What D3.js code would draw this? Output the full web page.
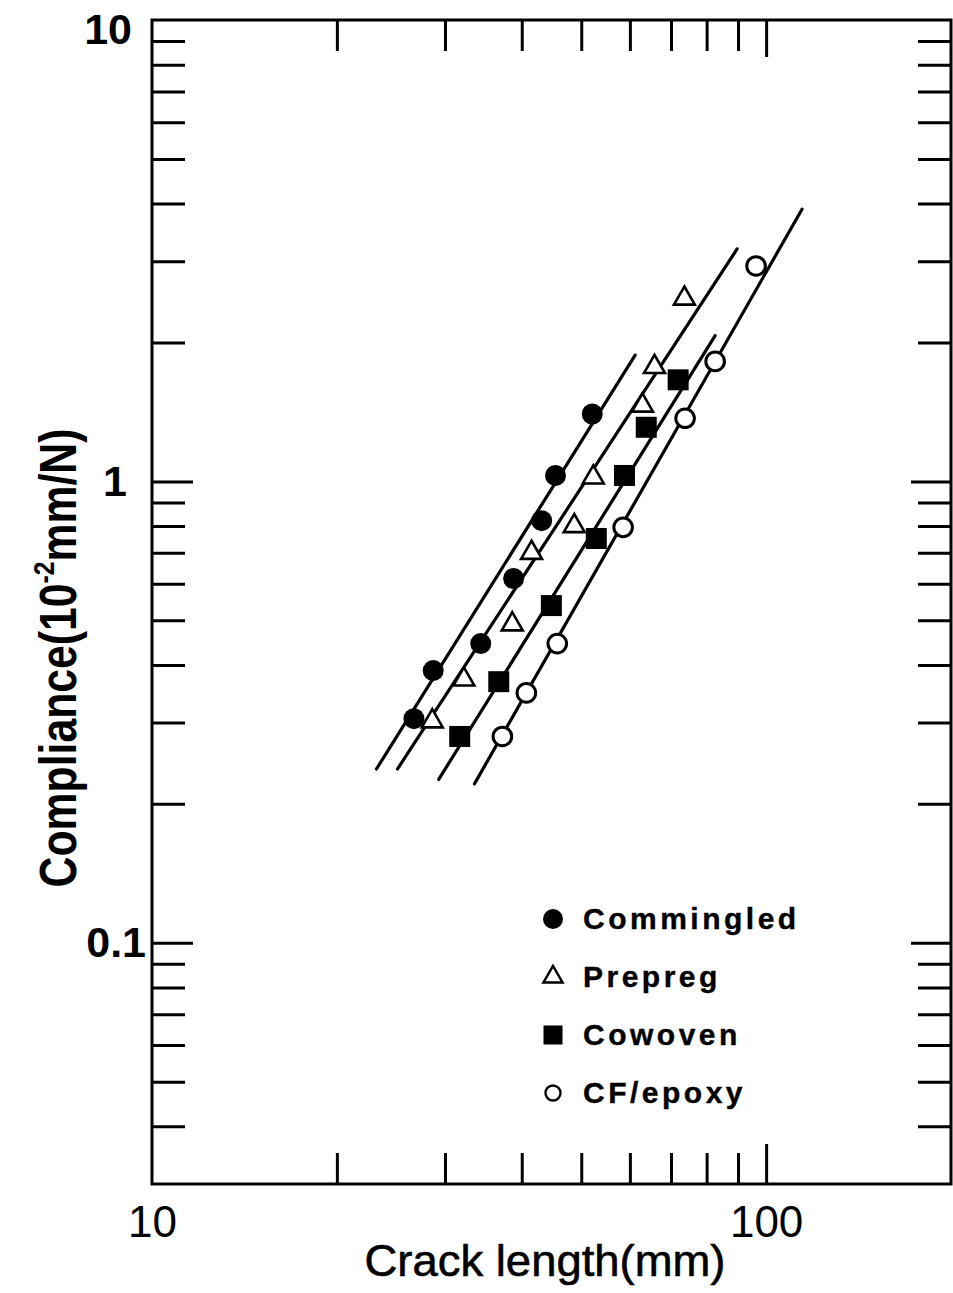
<!DOCTYPE html>
<html>
<head>
<meta charset="utf-8">
<script src="https://cdn.jsdelivr.net/npm/d3@7"></script>
<style>
  body { margin: 0; background: #fff; }
  svg { display: block; }
  text { font-family: "Liberation Sans", Arial, Helvetica, sans-serif; fill: #000; }
</style>
</head>
<body>
<div id="chart"></div>
<script>
"use strict";

// data
const seriesNames = ["Commingled", "Prepreg", "Cowoven", "CF/epoxy"];

const comminX = [26.7, 28.7, 34.3, 38.8, 43.1, 45.4, 52.1];
const comminY = [0.306, 0.389, 0.445, 0.616, 0.822, 1.03, 1.4];
const prepregX = [28.6, 32.2, 38.6, 41.5, 48.7, 52.3, 62.9, 65.8, 73.6];
const prepregY = [0.302, 0.372, 0.49, 0.7, 0.8, 1.02, 1.46, 1.77, 2.49];
const cowovenX = [31.7, 36.7, 44.7, 52.9, 58.8, 63.8, 71.9];
const cowovenY = [0.28, 0.368, 0.538, 0.752, 1.03, 1.31, 1.66];
const epoxyX = [37.2, 40.7, 45.7, 58.5, 73.8, 82.6, 96.3];
const epoxyY = [0.28, 0.348, 0.445, 0.795, 1.37, 1.82, 2.93];

// fitted lines: [start, end] for each series
const fitX = [[23.2, 61.2], [25.1, 89.7], [29.3, 82.6], [33.5, 114.4]];
const fitY = [[0.238, 1.877], [0.238, 3.19], [0.226, 2.07], [0.221, 3.89]];

const xTicks = [20, 30, 40, 50, 60, 70, 80, 90, 100];
const xLabels = [10, 100];
const yTicks = [0.04, 0.05, 0.06, 0.07, 0.08, 0.09, 0.1,
  0.2, 0.3, 0.4, 0.5, 0.6, 0.7, 0.8, 0.9, 1,
  2, 3, 4, 5, 6, 7, 8, 9];
const yLabels = [0.1, 1, 10];
const majorTicks = [0.1, 1, 100];

const W = 953;
const H = 1293;
const pLeft = 152, pRight = 951, pTop = 20, pBottom = 1184;

const x = d3.scaleLog().domain([10, 200]).range([pLeft, pRight]);
const y = d3.scaleLog().domain([0.03, 10]).range([pBottom, pTop]);

const isMajor = (d) => majorTicks.includes(d);

const svg = d3
  .select("#chart")
  .append("svg")
  .attr("width", W)
  .attr("height", H);

// frame
svg
  .append("rect")
  .attr("x", pLeft)
  .attr("y", pTop)
  .attr("width", pRight - pLeft)
  .attr("height", pBottom - pTop)
  .attr("fill", "none")
  .attr("stroke", "#000")
  .attr("stroke-width", 3);

// inward ticks on all four sides
const tickAxis = function (axis, transform, attr, sign, minor, major) {
  const g = svg
    .append("g")
    .attr("transform", transform)
    .call(axis.tickSize(0).tickFormat(""));
  g.select(".domain").remove();
  g.selectAll(".tick line")
    .attr(attr, (d) => sign * (isMajor(d) ? major : minor))
    .attr("stroke", "#000")
    .attr("stroke-width", 3);
  g.selectAll(".tick text").remove();
};

tickAxis(d3.axisBottom(x).tickValues(xTicks), `translate(0,${pBottom})`, "y2", -1, 31, 40);
tickAxis(d3.axisTop(x).tickValues(xTicks), `translate(0,${pTop})`, "y2", 1, 31, 37);
tickAxis(d3.axisLeft(y).tickValues(yTicks), `translate(${pLeft},0)`, "x2", 1, 33, 41);
tickAxis(d3.axisRight(y).tickValues(yTicks), `translate(${pRight},0)`, "x2", -1, 33, 40);

// tick labels
const xLab = svg
  .append("g")
  .attr("transform", `translate(0,${pBottom})`)
  .call(d3.axisBottom(x).tickValues(xLabels).tickSize(0).tickPadding(22).tickFormat(d3.format("")));
xLab.select(".domain").remove();
xLab.attr("font-family", null).attr("font-size", 44);
xLab.selectAll("text").attr("fill", "#000");

const yLab = svg
  .append("g")
  .attr("transform", `translate(${pLeft},0)`)
  .call(d3.axisLeft(y).tickValues(yLabels).tickSize(0).tickPadding(20).tickFormat(d3.format("")));
yLab.select(".domain").remove();
yLab.attr("font-family", null).attr("font-size", 43).attr("font-weight", "bold");
yLab.selectAll("text")
  .attr("fill", "#000")
  .attr("dy", (d) => (d === 10 ? "0.55em" : "0.32em"))
  .attr("dx", (d) => (d === 0.1 ? 14 : d === 1 ? -5 : 0));

// axis titles, squeezed to the width seen in the figure
const fitText = function (sel, len) {
  const natural = sel.node().getComputedTextLength();
  return len / natural;
};

const xTitle = svg
  .append("text")
  .attr("text-anchor", "middle")
  .attr("font-size", 44)
  .attr("stroke", "#000")
  .attr("stroke-width", 0.6)
  .text("Crack length(mm)");
const sx = fitText(xTitle, 361);
xTitle.attr("transform", `translate(545,1276) scale(${sx},1)`);

const yTitle = svg
  .append("text")
  .attr("text-anchor", "middle")
  .attr("font-size", 52)
  .attr("font-weight", "bold");
yTitle.append("tspan").text("Compliance(10");
yTitle.append("tspan").attr("font-size", 30).attr("dy", -22).text("-2");
yTitle.append("tspan").attr("dy", 22).text("mm/N)");
const sy = fitText(yTitle, 459);
yTitle.attr("transform", `translate(76,658) rotate(-90) scale(${sy},1)`);

// series
const series = seriesNames.map((name, i) => {
  const xs = [comminX, prepregX, cowovenX, epoxyX][i];
  const ys = [comminY, prepregY, cowovenY, epoxyY][i];
  return {
    name: name,
    points: xs.map((v, j) => ({ x: v, y: ys[j] })),
    fit: fitX[i].map((v, j) => ({ x: v, y: fitY[i][j] })),
  };
});

const symbolStyle = [
  { type: d3.symbolCircle, size: 346, legend: 314, fill: "#000", sw: 0 },
  { type: d3.symbolTriangle, size: 190, legend: 160, fill: "#fff", sw: 2.6 },
  { type: d3.symbolSquare, size: 441, legend: 361, fill: "#000", sw: 0 },
  { type: d3.symbolCircle, size: 272, legend: 177, fill: "#fff", sw: 3 },
];

const line = d3
  .line()
  .x((d) => x(d.x))
  .y((d) => y(d.y));

svg
  .append("g")
  .selectAll("path")
  .data(series)
  .enter()
  .append("path")
  .attr("d", (d) => line(d.fit))
  .attr("fill", "none")
  .attr("stroke", "#000")
  .attr("stroke-width", 3.2)
  .attr("stroke-linecap", "round");

series.forEach((s, i) => {
  const st = symbolStyle[i];
  svg
    .append("g")
    .selectAll("path")
    .data(s.points)
    .enter()
    .append("path")
    .attr("transform", (d) => `translate(${x(d.x)},${y(d.y)})`)
    .attr("d", d3.symbol().type(st.type).size(st.size))
    .attr("fill", st.fill)
    .attr("stroke", "#000")
    .attr("stroke-width", st.sw);
});

// legend
const legend = svg
  .append("g")
  .selectAll("g")
  .data(series)
  .enter()
  .append("g")
  .attr("transform", (d, i) => `translate(553,${929 + i * 58})`);

legend
  .append("path")
  .attr("transform", "translate(0,-10)")
  .attr("d", (d, i) => d3.symbol().type(symbolStyle[i].type).size(symbolStyle[i].legend)())
  .attr("fill", (d, i) => symbolStyle[i].fill)
  .attr("stroke", "#000")
  .attr("stroke-width", (d, i) => (symbolStyle[i].sw ? 2.4 : 0));

legend
  .append("text")
  .attr("x", 30)
  .attr("font-size", 30)
  .attr("font-weight", "bold")
  .attr("letter-spacing", 3.5)
  .attr("stroke", "#000")
  .attr("stroke-width", 0.4)
  .text((d) => d.name);
</script>
</body>
</html>
